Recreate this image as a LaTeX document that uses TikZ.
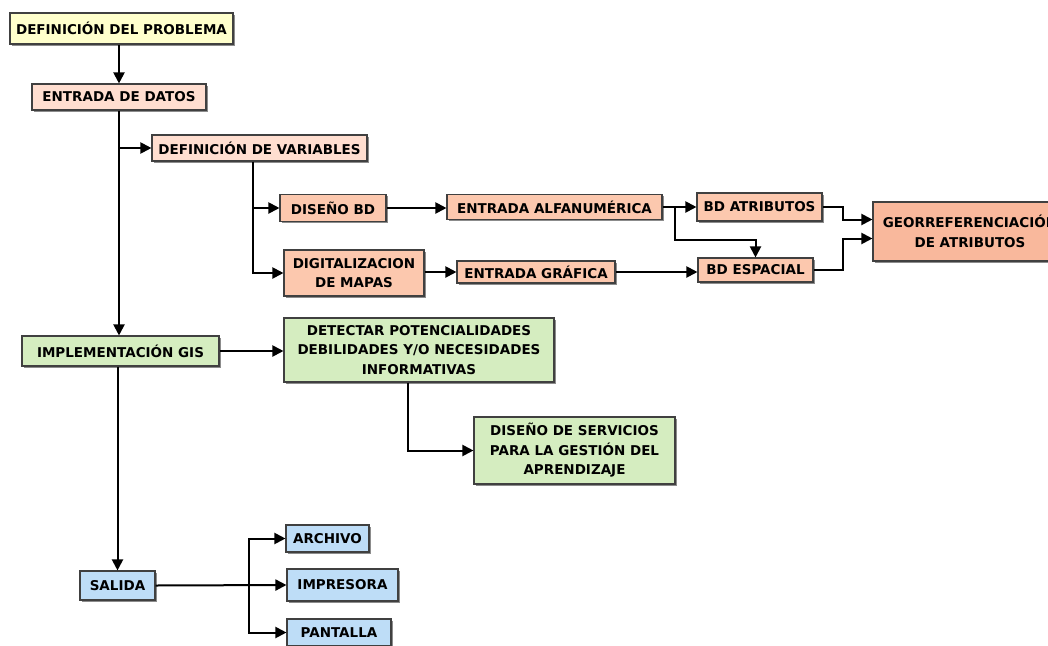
\documentclass[tikz,border=0pt]{standalone}
\usepackage{fontspec}
\setmainfont{DejaVu Sans}
\usetikzlibrary{arrows.meta,shadows}
\definecolor{probyellow}{RGB}{255,255,204}
\definecolor{datapink}{RGB}{255,222,208}
\definecolor{datasalmon}{RGB}{252,200,174}
\definecolor{georose}{RGB}{249,184,156}
\definecolor{gisgreen}{RGB}{213,237,192}
\definecolor{outblue}{RGB}{190,221,247}
\tikzset{
  box/.style={draw=black!75, line width=1.1pt, inner sep=1pt, align=center,
    font=\fontsize{13.5}{19.5}\selectfont\bfseries,
    drop shadow={shadow xshift=1.5pt, shadow yshift=-1.5pt, fill=black!45, opacity=1}},
  arr/.style={-{Triangle[length=11pt,width=11pt]}, line width=2pt},
  lin/.style={line width=2pt}
}

\begin{document}
\begin{tikzpicture}[x=1pt, y=1pt]
    \useasboundingbox[fill=white] (0,0) rectangle (1048,-645);

    % Problema y entrada
    \node[box, fill=probyellow, minimum width=223pt, minimum height=31pt] (prob) at (121.5,-28.5) {DEFINICIÓN DEL PROBLEMA};
    \node[box, fill=datapink, minimum width=174pt, minimum height=26pt] (datos) at (119,-97) {ENTRADA DE DATOS};
    \node[box, fill=datapink, minimum width=215pt, minimum height=26pt] (vars) at (259.5,-148) {DEFINICIÓN DE VARIABLES};

    % Bases de datos
    \node[box, fill=datasalmon, minimum width=106pt, minimum height=27pt] (dbd) at (333,-208) {DISEÑO BD};
    \node[box, fill=datasalmon, minimum width=215pt, minimum height=25pt] (alfa) at (554.5,-207) {ENTRADA ALFANUMÉRICA};
    \node[box, fill=datasalmon, minimum width=140pt, minimum height=46pt] (digi) at (354,-273) {DIGITALIZACION\\DE MAPAS};
    \node[box, fill=datasalmon, minimum width=158pt, minimum height=22pt] (graf) at (536,-272) {ENTRADA GRÁFICA};
    \node[box, fill=datasalmon, minimum width=125pt, minimum height=28pt] (batr) at (759.5,-207) {BD ATRIBUTOS};
    \node[box, fill=datasalmon, minimum width=115pt, minimum height=24pt] (besp) at (755.5,-270) {BD ESPACIAL};
    \node[box, fill=georose, minimum width=194pt, minimum height=59pt] (geo) at (970,-231.5) {GEORREFERENCIACIÓN\\DE ATRIBUTOS};

    % Implementacion
    \node[box, fill=gisgreen, minimum width=197pt, minimum height=30pt] (impl) at (120.5,-351) {IMPLEMENTACIÓN GIS};
    \node[box, fill=gisgreen, minimum width=270pt, minimum height=64pt] (det) at (419,-350) {DETECTAR POTENCIALIDADES\\DEBILIDADES Y/O NECESIDADES\\INFORMATIVAS};
    \node[box, fill=gisgreen, minimum width=201pt, minimum height=67pt] (serv) at (574.5,-450.5) {DISEÑO DE SERVICIOS\\PARA LA GESTIÓN DEL\\APRENDIZAJE};

    % Salida
    \node[box, fill=outblue, minimum width=75pt, minimum height=29pt] (salida) at (117.5,-585.5) {SALIDA};
    \node[box, fill=outblue, minimum width=83pt, minimum height=27pt] (arch) at (327.5,-538.5) {ARCHIVO};
    \node[box, fill=outblue, minimum width=111pt, minimum height=32pt] (impr) at (342.5,-585) {IMPRESORA};
    \node[box, fill=outblue, minimum width=104pt, minimum height=27pt] (pant) at (339,-632.5) {PANTALLA};

    % Puntos de giro
    \coordinate (vd) at ([xshift=-7pt]vars.south);
    \coordinate (sp) at ([xshift=12pt]alfa.east);
    \coordinate (gin1) at ([yshift=12pt]geo.west);
    \coordinate (gin2) at ([yshift=-7pt]geo.west);
    \coordinate (dd) at ([xshift=-11pt]det.south);
    \coordinate (sb) at ([xshift=93pt]salida.east);

    % Flechas
    \draw[arr] (datos.north |- prob.south) -- (datos.north);
    \draw[arr] (datos.south) -- (datos.south |- impl.north);
    \draw[arr] (datos.south |- vars.west) -- (vars.west);
    \draw[arr] (vd) |- (dbd.west);
    \draw[arr] (vd) |- (digi.west);
    \draw[arr] (dbd.east) -- (dbd.east -| alfa.west);
    \draw[arr] (digi.east |- graf.west) -- (graf.west);
    \draw[arr] (alfa.east) -- (alfa.east -| batr.west);
    \draw[arr] (sp) -- ++(0,-33) -| (besp.north);
    \draw[arr] (graf.east) -- (graf.east -| besp.west);
    \draw[arr] (batr.east) -- ++(20,0) |- (gin1);
    \draw[arr] (besp.east) -- ++(29,0) |- (gin2);
    \draw[arr] (impl.east) -- (impl.east -| det.west);
    \draw[arr] (dd) |- (serv.west);
    \draw[arr] (salida.north |- impl.south) -- (salida.north);
    \draw[arr] (salida.east) -- (impr.west);
    \draw[arr] (sb) |- (arch.west);
    \draw[arr] (sb) |- (pant.west);
\end{tikzpicture}
\end{document}
